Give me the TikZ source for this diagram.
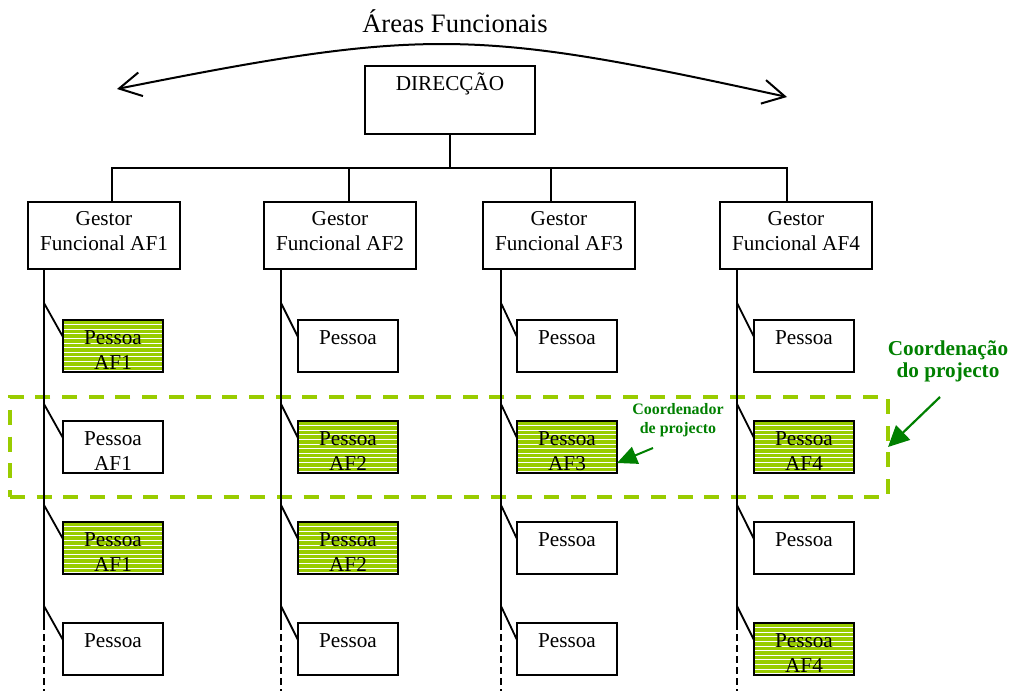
\documentclass[tikz,border=0pt]{standalone}
\usepackage{fontspec}
\setmainfont{Liberation Serif}
\usetikzlibrary{arrows.meta,calc}
\definecolor{afgreen}{RGB}{153,204,0}
\definecolor{txtgreen}{RGB}{0,128,0}
\begin{document}
\begin{tikzpicture}[x=1bp,y=-1bp,
  box/.style={draw, line width=1.8bp, outer sep=0pt, inner sep=0pt, fill=white},
  dirbox/.style={box, minimum width=170bp, minimum height=68bp},
  gbox/.style={box, minimum width=152bp, minimum height=67bp},
  pbox/.style={box, minimum width=100bp, minimum height=52bp},
  hl/.style={fill=afgreen},
  txt/.style={anchor=north, inner sep=0pt, align=center,
    font=\fontsize{21.3}{25}\selectfont},
  link/.style={line width=1.8bp},
  stripe/.style={white, line width=1bp},
  zone/.style={draw=afgreen, line width=3.5bp, dash pattern=on 15bp off 11.7bp,
    minimum width=878bp, minimum height=100bp, inner sep=0pt, outer sep=0pt},
  garrow/.style={draw=txtgreen, line width=2bp, -{Triangle[length=20bp,width=18bp]}, txtgreen},
  gnote/.style={text=txtgreen, inner sep=0pt, anchor=north, align=center}
]
\useasboundingbox (0,0) rectangle (1012,691);

% project coordination band
\node[zone] (zone) at (449,447) {};

% title and the double-headed arc across the functional areas
\node[anchor=base, inner sep=0pt, font=\fontsize{26.7}{30}\selectfont] (title) at (455,33) {Áreas Funcionais};
\coordinate (arcL) at (117,89);
\coordinate (arcR) at (787,97);
\draw[line width=2bp, {Straight Barb[length=22bp,width=24bp]}-{Straight Barb[length=22bp,width=24bp]}]
  (arcL) .. controls (428,27) and (476,29) .. (arcR);

% management
\node[dirbox] (dir) at (450,100) {};
\node[txt] at ([yshift=-6.5bp]dir.north) {\strut DIRECÇÃO};

\node[gbox] (g1) at (104,235.5) {};
\node[gbox] (g2) at (340,235.5) {};
\node[gbox] (g3) at (559,235.5) {};
\node[gbox] (g4) at (796,235.5) {};
\foreach \c in {1,...,4}
  \node[txt] at ([yshift=-5.5bp]g\c.north) {\strut Gestor\\Funcional AF\c};

% tree from the direction to the functional managers
\coordinate (bus) at (450,168);
\coordinate (b1) at (112,168);
\coordinate (b2) at (349,168);
\coordinate (b3) at (551,168);
\coordinate (b4) at (787,168);
\draw[link] (dir.south -| bus) -- (bus);
\draw[link] (b1 |- g1.north) -- (b1) -- (b4) -- (b4 |- g4.north);
\draw[link] (b2) -- (b2 |- g2.north);
\draw[link] (b3) -- (b3 |- g3.north);

% people in each functional area
\node[pbox,hl] (p11) at (113,346) {};
\node[pbox]    (p12) at (113,447) {};
\node[pbox,hl] (p13) at (113,548) {};
\node[pbox]    (p14) at (113,649) {};
\node[pbox]    (p21) at (348,346) {};
\node[pbox,hl] (p22) at (348,447) {};
\node[pbox,hl] (p23) at (348,548) {};
\node[pbox]    (p24) at (348,649) {};
\node[pbox]    (p31) at (567,346) {};
\node[pbox,hl] (p32) at (567,447) {};
\node[pbox]    (p33) at (567,548) {};
\node[pbox]    (p34) at (567,649) {};
\node[pbox]    (p41) at (804,346) {};
\node[pbox,hl] (p42) at (804,447) {};
\node[pbox]    (p43) at (804,548) {};
\node[pbox,hl] (p44) at (804,649) {};

% white horizontal hatching on the highlighted people
\foreach \n in {p11,p13,p22,p23,p32,p42,p44} {
  \begin{scope}
    \clip ([shift={(0.9,0.9)}]\n.north west) rectangle ([shift={(-0.9,-0.9)}]\n.south east);
    \foreach \k in {1,...,11}
      \draw[stripe] ([yshift=-\k*4.6bp]\n.north west) -- ([yshift=-\k*4.6bp]\n.north east);
  \end{scope}
  \draw[line width=1.8bp] (\n.north west) rectangle (\n.south east);
}

\node[txt] at ([yshift=-6.5bp]p11.north) {\strut Pessoa\\AF1};
\node[txt] at ([yshift=-6.5bp]p12.north) {\strut Pessoa\\AF1};
\node[txt] at ([yshift=-6.5bp]p13.north) {\strut Pessoa\\AF1};
\node[txt] at ([yshift=-6.5bp]p14.north) {\strut Pessoa};
\node[txt] at ([yshift=-6.5bp]p21.north) {\strut Pessoa};
\node[txt] at ([yshift=-6.5bp]p22.north) {\strut Pessoa\\AF2};
\node[txt] at ([yshift=-6.5bp]p23.north) {\strut Pessoa\\AF2};
\node[txt] at ([yshift=-6.5bp]p24.north) {\strut Pessoa};
\node[txt] at ([yshift=-6.5bp]p31.north) {\strut Pessoa};
\node[txt] at ([yshift=-6.5bp]p32.north) {\strut Pessoa\\AF3};
\node[txt] at ([yshift=-6.5bp]p33.north) {\strut Pessoa};
\node[txt] at ([yshift=-6.5bp]p34.north) {\strut Pessoa};
\node[txt] at ([yshift=-6.5bp]p41.north) {\strut Pessoa};
\node[txt] at ([yshift=-6.5bp]p42.north) {\strut Pessoa\\AF4};
\node[txt] at ([yshift=-6.5bp]p43.north) {\strut Pessoa};
\node[txt] at ([yshift=-6.5bp]p44.north) {\strut Pessoa\\AF4};

% vertical spines with the branch to every person
\foreach \c/\sx in {1/44,2/281,3/501,4/737} {
  \coordinate (s\c) at (\sx,691);
  \draw[link] (g\c.south -| s\c) -- (s\c |- p\c4.north);
  \draw[link, dash pattern=on 7bp off 4bp] (s\c |- p\c4.north) -- (s\c);
  \foreach \r in {1,...,4}
    \draw[link] ($(s\c |- p\c\r.north)+(0,-17)$) -- ($(p\c\r.north west)+(0,17)$);
}

% annotations
\node[gnote, font=\fontsize{16}{19}\selectfont\bfseries] (coordr) at (678,400.7) {\strut Coordenador\\de projecto};
\coordinate (coordrTail) at (653,448);
\draw[garrow] (coordrTail) -- (p32.east |- 0,463);

\node[gnote, font=\fontsize{21.3}{22.5}\selectfont\bfseries] (coordn) at (948,339.3) {\strut Coordenação\\do projecto};
\coordinate (coordnTail) at (940,397);
\draw[garrow, line width=2.2bp, -{Triangle[length=21bp,width=20bp]}] (coordnTail) -- (zone.east);
\end{tikzpicture}
\end{document}
